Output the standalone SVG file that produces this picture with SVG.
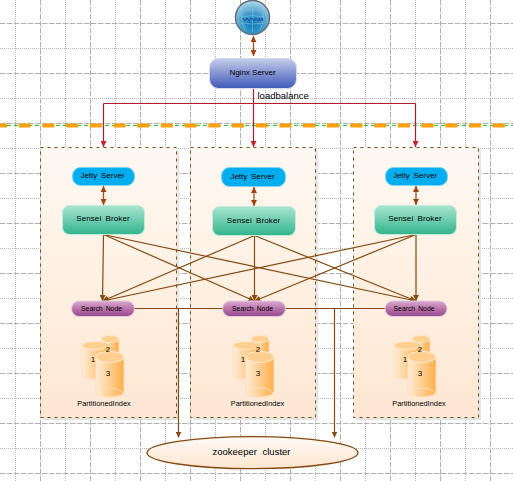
<svg xmlns="http://www.w3.org/2000/svg" width="513" height="481" viewBox="0 0 513 481">
<style>
.maj{stroke:#b0b0b0;stroke-width:1;stroke-dasharray:5.500 1.500;fill:none}
.min{stroke:#b8b8b8;stroke-width:1;stroke-dasharray:1 1;fill:none}
.panel{fill:url(#panelG);stroke:#7f4a12;stroke-width:1;stroke-dasharray:3 4}
.shadow{fill:#e4e4e4}
.jetty{fill:#00aeef;stroke:#7fd6f7;stroke-width:1}
.broker{fill:url(#brokerG);stroke:#c4ebdc;stroke-width:1}
.search{fill:url(#searchG);stroke:#e4cce0;stroke-width:1}
.t{font-family:"Liberation Sans",Arial,sans-serif;font-size:8px;fill:#000;text-anchor:middle;word-spacing:1.500px}
.s{font-size:6.800px;word-spacing:1.200px}
.b{letter-spacing:.1px;word-spacing:2px}
.p{font-size:7.400px}
.n{word-spacing:0}
.link{stroke:#86490f;stroke-width:1.200;fill:none}
.arr{marker-end:url(#a)}
.both{stroke:#a5532a;stroke-width:1.300;fill:none;marker-start:url(#b);marker-end:url(#a2)}
.red{stroke:#b01c2c;stroke-width:1.200;fill:none}
.redA{marker-end:url(#r)}
.cylB{fill:url(#cylG);stroke:#fbe0bd;stroke-width:1}
.cylT{fill:#ffcf8f;stroke:#fff0dc;stroke-width:.8}
.cylF{fill:none;stroke:#ffe6c8;stroke-width:.8}
</style>
<defs>
<linearGradient id="panelG" x1="0" y1="0" x2="0" y2="1"><stop offset="0" stop-color="#fff9f3"/><stop offset=".5" stop-color="#fff0e2"/><stop offset="1" stop-color="#fee7d3"/></linearGradient>
<linearGradient id="nginxG" x1="0" y1="0" x2="0" y2="1"><stop offset="0" stop-color="#c6cdea"/><stop offset="1" stop-color="#3f58b8"/></linearGradient>
<linearGradient id="brokerG" x1="0" y1="0" x2="0" y2="1"><stop offset="0" stop-color="#a9e5d0"/><stop offset="1" stop-color="#33b48c"/></linearGradient>
<linearGradient id="searchG" x1="0" y1="0" x2="0" y2="1"><stop offset="0" stop-color="#d9a9cf"/><stop offset=".55" stop-color="#b66fa8"/><stop offset="1" stop-color="#96488c"/></linearGradient>
<linearGradient id="cylG" x1="0" y1="0" x2="1" y2="0"><stop offset="0" stop-color="#ffecd6"/><stop offset="1" stop-color="#ffae47"/></linearGradient>
<linearGradient id="zkG" x1="0" y1="0" x2="0" y2="1"><stop offset="0" stop-color="#fffaf5"/><stop offset="1" stop-color="#fee6d0"/></linearGradient>
<radialGradient id="globeG" cx=".5" cy=".7" r=".65"><stop offset="0" stop-color="#0f7db5"/><stop offset=".5" stop-color="#3f9ac8"/><stop offset="1" stop-color="#a9d4e8"/></radialGradient>
<marker id="a" markerUnits="userSpaceOnUse" markerWidth="7" markerHeight="6" refX="6" refY="3" orient="auto"><path d="M0 0L6 3L0 6z" fill="#86490f"/></marker>
<marker id="a2" markerUnits="userSpaceOnUse" markerWidth="7" markerHeight="6" refX="6" refY="3" orient="auto"><path d="M0 0L6 3L0 6z" fill="#a5420f"/></marker>
<marker id="b" markerUnits="userSpaceOnUse" markerWidth="7" markerHeight="6" refX="0" refY="3" orient="auto"><path d="M6 0L0 3L6 6z" fill="#a5420f"/></marker>
<marker id="r" markerUnits="userSpaceOnUse" markerWidth="7" markerHeight="6" refX="6" refY="3" orient="auto"><path d="M0 0L6 3L0 6z" fill="#c8202a"/></marker>
</defs>
<rect width="513" height="481" fill="#fff"/>
<g id="grid">
<path class="maj" d="M40.500 0V481M90.500 0V481M140.500 0V481M190.500 0V481M240.500 0V481M290.500 0V481M340.500 0V481M390.500 0V481M440.500 0V481M490.500 0V481"/>
<path class="min" d="M15.500 0V481M65.500 0V481M115.500 0V481M165.500 0V481M215.500 0V481M265.500 0V481M315.500 0V481M365.500 0V481M415.500 0V481M465.500 0V481"/>
<path class="maj" d="M0 23.500H513M0 73.500H513M0 123.500H513M0 173.500H513M0 223.500H513M0 273.500H513M0 323.500H513M0 373.500H513M0 423.500H513M0 473.500H513"/>
<path class="min" d="M0 48.500H513M0 98.500H513M0 148.500H513M0 198.500H513M0 248.500H513M0 298.500H513M0 348.500H513M0 398.500H513M0 448.500H513"/>
</g>
<g id="divider">
<path d="M0 125.500H513" stroke="#22cc22" stroke-width="1" stroke-dasharray="4 3" fill="none"/>
<path d="M-5 125.500H513" stroke="#ffa00c" stroke-width="4" stroke-dasharray="12 11.700" fill="none"/>
</g>
<g id="panel1"><rect x="43" y="150" width="136" height="270" class="shadow"/><rect x="40.500" y="147.500" width="136" height="270" class="panel"/></g>
<g id="panel2"><rect x="193" y="150" width="125" height="270" class="shadow"/><rect x="190.500" y="147.500" width="125" height="270" class="panel"/></g>
<g id="panel3"><rect x="356" y="150" width="125" height="270" class="shadow"/><rect x="353.500" y="147.500" width="125" height="270" class="panel"/></g>
<g id="connectors">
<path class="red" d="M253.500 88V103.500"/>
<path class="red" d="M103.500 103.500H415.500"/>
<path class="red redA" d="M415.500 103.500V147"/>
<path class="red redA" d="M253.500 103.500V147"/>
<path class="red redA" d="M103.500 103.500V147"/>
<path class="both" d="M253.500 36V56"/>
<path class="both" d="M103.500 186V205"/>
<path class="both" d="M254 187V206"/>
<path class="both" d="M416 186V205"/>
<path class="link arr" d="M103.500 234.500L102.500 301"/>
<path class="link arr" d="M103.500 234.500L254.500 301"/>
<path class="link arr" d="M103.500 234.500L416 301"/>
<path class="link arr" d="M254.500 235.500L102.500 301"/>
<path class="link arr" d="M254.500 235.500V301"/>
<path class="link arr" d="M254.500 235.500L416 301"/>
<path class="link arr" d="M416 234.500L102.500 301"/>
<path class="link arr" d="M416 234.500L254.500 301"/>
<path class="link arr" d="M416 234.500V301"/>
<path class="link" d="M134 308.500H385"/>
<path class="link arr" d="M178.500 308.500V437.500"/>
<path class="link arr" d="M334.500 308.500V437.500"/>
</g>
<g id="globe"><path d="M249 2Q253 -1 257 2" stroke="#4f5f6f" stroke-width="2" fill="none"/><circle cx="252.500" cy="17.500" r="17" fill="url(#globeG)" stroke="#5f6f7f" stroke-width="1.500"/><path d="M241 17Q252 14 264 17M243 10H262M240 23Q252 25 265 23M252.500 3V32M245 5Q238 17 245 30M260 5Q267 17 260 30" stroke="#7fbcdc" stroke-width=".6" fill="none"/><path d="M243 18l2 3l2-3l2 3l2-3M252 18l2 3l2-3l2 3l2-3M259 18l1.500 3l1.500-3l1 3" stroke="#1d4fa0" stroke-width="1" fill="none"/></g>
<g id="nginx"><rect x="209.500" y="58.500" width="87" height="30" rx="9" fill="url(#nginxG)" stroke="#d4d9f0"/><text class="t n" x="252.500" y="75">Nginx Server</text></g>
<g id="loadbalance"><text x="257.500" y="99" font-family="Liberation Sans,Arial,sans-serif" font-size="9.500px" fill="#000">loadbalance</text></g>
<g id="jetty1"><rect x="72.500" y="167.500" width="62" height="18" rx="8" class="jetty"/><text class="t" x="102.500" y="178">Jetty Server</text></g>
<g id="jetty2"><rect x="221.500" y="167.500" width="64" height="19" rx="8" class="jetty"/><text class="t" x="252.500" y="179">Jetty Server</text></g>
<g id="jetty3"><rect x="385.500" y="167.500" width="62" height="18" rx="8" class="jetty"/><text class="t" x="415" y="178">Jetty Server</text></g>
<g id="broker1"><rect x="62.500" y="205.500" width="82" height="29" rx="7" class="broker"/><text class="t b" x="103" y="221">Sensei Broker</text></g>
<g id="broker2"><rect x="212.500" y="206.500" width="83" height="29" rx="7" class="broker"/><text class="t b" x="253.500" y="223">Sensei Broker</text></g>
<g id="broker3"><rect x="374.500" y="205.500" width="82" height="29" rx="7" class="broker"/><text class="t b" x="415" y="221">Sensei Broker</text></g>
<g id="search1"><rect x="71.500" y="301" width="63" height="15.500" rx="7.700" class="search"/><text class="t s" x="101.500" y="310.500">Search Node</text></g>
<g id="search2"><rect x="222.500" y="301" width="63" height="15.500" rx="7.700" class="search"/><text class="t s" x="252.500" y="310.500">Search Node</text></g>
<g id="search3"><rect x="385" y="301" width="62" height="15.500" rx="7.700" class="search"/><text class="t s" x="414" y="310.500">Search Node</text></g>
<g id="index1">
<path class="cylB" d="M101 339a9 4 0 0 1 18 0V378H101z"/><ellipse class="cylT" cx="110" cy="339" rx="9" ry="3.500"/>
<path class="cylB" d="M82 346a14 4.500 0 0 1 28 0V375a14 4 0 0 1 -28 0z"/><ellipse class="cylT" cx="96" cy="345.500" rx="14" ry="4"/>
<path class="cylB" d="M96 357a14 5.500 0 0 1 28 0V392a14 5 0 0 1 -28 0z"/><ellipse class="cylT" cx="110" cy="357" rx="14" ry="5.500"/>
<path class="cylF" d="M96 396a14 8 0 0 1 28 0"/>
<text class="t" x="108" y="352">2</text><text class="t" x="93" y="362">1</text><text class="t" x="108" y="376">3</text>
<text class="t p" x="104" y="406">PartitionedIndex</text>
</g>
<g id="index2">
<path class="cylB" d="M251 339a9 4 0 0 1 18 0V378H251z"/><ellipse class="cylT" cx="260" cy="339" rx="9" ry="3.500"/>
<path class="cylB" d="M233 346a14 4.500 0 0 1 28 0V375a14 4 0 0 1 -28 0z"/><ellipse class="cylT" cx="247" cy="345.500" rx="14" ry="4"/>
<path class="cylB" d="M246 357a14 5.500 0 0 1 28 0V392a14 5 0 0 1 -28 0z"/><ellipse class="cylT" cx="260" cy="357" rx="14" ry="5.500"/>
<path class="cylF" d="M246 396a14 8 0 0 1 28 0"/>
<text class="t" x="258" y="352">2</text><text class="t" x="243" y="362">1</text><text class="t" x="258" y="376">3</text>
<text class="t p" x="257.500" y="406">PartitionedIndex</text>
</g>
<g id="index3">
<path class="cylB" d="M412 339a9 4 0 0 1 18 0V378H412z"/><ellipse class="cylT" cx="421" cy="339" rx="9" ry="3.500"/>
<path class="cylB" d="M394 346a14 4.500 0 0 1 28 0V375a14 4 0 0 1 -28 0z"/><ellipse class="cylT" cx="408" cy="345.500" rx="14" ry="4"/>
<path class="cylB" d="M408 357a14 5.500 0 0 1 28 0V392a14 5 0 0 1 -28 0z"/><ellipse class="cylT" cx="422" cy="357" rx="14" ry="5.500"/>
<path class="cylF" d="M408 396a14 8 0 0 1 28 0"/>
<text class="t" x="420" y="352">2</text><text class="t" x="405" y="362">1</text><text class="t" x="420" y="376">3</text>
<text class="t p" x="419" y="406">PartitionedIndex</text>
</g>
<g id="zookeeper"><ellipse cx="252.500" cy="452.700" rx="105.500" ry="16" fill="url(#zkG)" stroke="#86490f" stroke-width="1.300"/><text class="t" x="251.500" y="455" style="font-size:9.500px;word-spacing:3px">zookeeper cluster</text></g>
</svg>
